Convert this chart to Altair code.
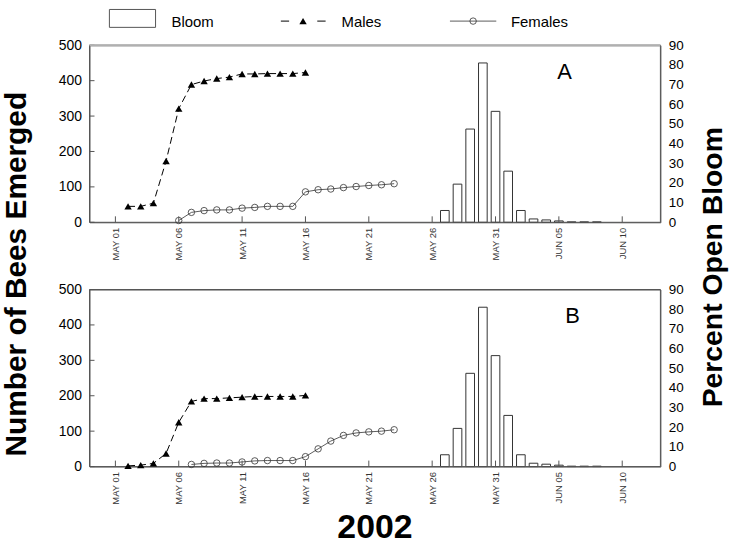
import altair as alt
import pandas as pd

# ---------------- data ----------------
male_dates = pd.date_range("2002-05-02", "2002-05-16").strftime("%Y-%m-%d").tolist()
males_A = [45, 45, 54, 173, 321, 389, 399, 406, 410, 419, 419, 420, 420, 420, 423]
males_B = [2, 4, 9, 37, 125, 184, 192, 192, 194, 196, 198, 198, 198, 198, 201]

fem_dates_A = pd.date_range("2002-05-06", "2002-05-23").strftime("%Y-%m-%d").tolist()
females_A = [5, 28, 33, 35, 35, 40, 42, 45, 45, 45, 86, 92, 94, 98, 101, 104, 106, 109]
fem_dates_B = pd.date_range("2002-05-07", "2002-05-23").strftime("%Y-%m-%d").tolist()
females_B = [6, 9, 10, 10, 13, 16, 17, 17, 17, 28, 50, 72, 88, 95, 98, 100, 104]

bloom_dates = pd.date_range("2002-05-27", "2002-06-08").strftime("%Y-%m-%d").tolist()
bloom = [6, 19.4, 47.4, 81, 56.4, 26, 6, 1.7, 1.2, 0.7, 0.2, 0.2, 0.2]

tick_dates = ["2002-05-01", "2002-05-06", "2002-05-11", "2002-05-16", "2002-05-21",
              "2002-05-26", "2002-05-31", "2002-06-05", "2002-06-10"]
tick_labels = ["MAY 01", "MAY 06", "MAY 11", "MAY 16", "MAY 21",
               "MAY 26", "MAY 31", "JUN 05", "JUN 10"]
left_ticks = [0, 100, 200, 300, 400, 500]
right_ticks = [0, 10, 20, 30, 40, 50, 60, 70, 80, 90]

ORIGIN = pd.Timestamp("2002-05-01")


def to_day(dates):
    return [(pd.Timestamp(d) - ORIGIN).days + 1 for d in dates]


tick_days = to_day(tick_dates)

# ---------------- layout ----------------
W, H = 574, 178
FONT = "Liberation Sans"
xscale = alt.Scale(domain=[-0.65, 43.62], nice=False, zero=False)
yl = alt.Scale(domain=[0, 500], nice=False, zero=False)
yr = alt.Scale(domain=[0, 90], nice=False, zero=False)

label_expr = "[" + ",".join(f"'{t}'" for t in tick_labels) + "][round((datum.value-1)/5)]"
xax = alt.Axis(values=tick_days, labelExpr=label_expr, labelAngle=270, labelAlign="right",
               labelBaseline="middle", labelFontSize=9.5, labelColor="#333", labelPadding=5,
               ticks=False, domain=False, grid=False, title=None, labelFont=FONT)
yax_left = alt.Axis(orient="left", values=left_ticks, labelFontSize=14, labelPadding=8,
                    labelColor="black", ticks=False, domain=False, grid=False, title=None,
                    labelFont=FONT)
yax_right = alt.Axis(orient="right", values=right_ticks, labelFontSize=13.5, labelPadding=8,
                     labelColor="black", ticks=False, domain=False, grid=False, title=None,
                     labelFont=FONT)


def panel(males, fdates, females, letter, letter_xy, top=False, bottom=False):
    mdf = pd.DataFrame({"day": to_day(male_dates), "v": males})
    fdf = pd.DataFrame({"day": to_day(fdates), "v": females})
    bdf = pd.DataFrame({"day": to_day(bloom_dates), "b": bloom})
    tdf = pd.DataFrame({"day": tick_days})
    ldf = pd.DataFrame({"v": left_ticks})
    base = alt.Chart(pd.DataFrame({"a": [0]}))

    X = alt.X("day:Q", scale=xscale, axis=xax)
    YL = alt.Y("v:Q", scale=yl, axis=yax_left)

    bars = alt.Chart(bdf).mark_bar(size=8.7, fill="white", stroke="#333", strokeWidth=1).encode(
        x=X, y=alt.Y("b:Q", scale=yr, axis=yax_right),
    )

    frame = base.mark_rect(fill="transparent", stroke="#555", strokeWidth=1).encode(
        x=alt.value(0), x2=alt.value(W), y=alt.value(0), y2=alt.value(H))
    mline = alt.Chart(mdf).mark_line(color="black", strokeDash=[7, 4], strokeWidth=1).encode(x=X, y=YL)
    mpts = alt.Chart(mdf).mark_point(shape="triangle-up", filled=True, color="black",
                                     size=55, opacity=1).encode(x=X, y=YL)
    fline = alt.Chart(fdf).mark_line(color="#333", strokeWidth=0.8).encode(x=X, y=YL)
    fpts = alt.Chart(fdf).mark_point(shape="circle", filled=False, color="#333",
                                     size=42, strokeWidth=0.8, opacity=1).encode(x=X, y=YL)
    yticks = alt.Chart(ldf).mark_rule(color="#555").encode(
        y=YL, x=alt.value(0), x2=alt.value(5),
    )
    xticks = alt.Chart(tdf).mark_rule(color="#555").encode(
        x=X, y=alt.value(H), y2=alt.value(H - 6),
    )
    lab = alt.Chart(pd.DataFrame({"t": [letter]})).mark_text(
        font=FONT, fontSize=22, align="center", baseline="alphabetic", color="black").encode(
        text="t:N", x=alt.value(letter_xy[0]), y=alt.value(letter_xy[1]))

    left_layers = [frame, mline, mpts, fline, fpts, yticks, xticks, lab]

    if top:
        txt = dict(font=FONT, fontSize=15, align="left", baseline="alphabetic", color="black")
        left_layers += [
            base.mark_rule(color="#b0b0b0", strokeWidth=2).encode(
                x=alt.value(0), x2=alt.value(W), y=alt.value(0)),
            base.mark_rect(fill="white", stroke="#555", strokeWidth=1).encode(
                x=alt.value(20), x2=alt.value(66.4), y=alt.value(-36), y2=alt.value(-18)),
            base.mark_text(**txt).encode(text=alt.value("Bloom"), x=alt.value(82.4), y=alt.value(-18.3)),
            base.mark_rule(color="black", strokeWidth=1).encode(
                x=alt.value(192.4), x2=alt.value(200.7), y=alt.value(-24.3)),
            base.mark_rule(color="black", strokeWidth=1).encode(
                x=alt.value(229), x2=alt.value(237.4), y=alt.value(-24.3)),
            base.mark_point(shape="triangle-up", filled=True, color="black", size=55, opacity=1).encode(
                x=alt.value(214.7), y=alt.value(-24.3)),
            base.mark_text(**txt).encode(text=alt.value("Males"), x=alt.value(253.4), y=alt.value(-18.3)),
            base.mark_rule(color="#333", strokeWidth=0.8).encode(
                x=alt.value(362.4), x2=alt.value(409), y=alt.value(-24.3)),
            base.mark_point(shape="circle", filled=False, color="#333", size=42,
                            strokeWidth=0.8, opacity=1).encode(x=alt.value(385.7), y=alt.value(-24.3)),
            base.mark_text(**txt).encode(text=alt.value("Females"), x=alt.value(423.7), y=alt.value(-18.3)),
            base.mark_text(font=FONT, fontSize=30, fontWeight="bold", angle=270, align="center",
                           baseline="middle", color="black").encode(
                text=alt.value("Number of Bees Emerged"), x=alt.value(-73), y=alt.value(230.2)),
            base.mark_text(font=FONT, fontSize=28.5, fontWeight="bold", angle=270, align="center",
                           baseline="middle", color="black").encode(
                text=alt.value("Percent Open Bloom"), x=alt.value(626.5), y=alt.value(223.2)),
        ]
    if bottom:
        left_layers.append(
            base.mark_text(font=FONT, fontSize=34, fontWeight="bold", align="center",
                           baseline="alphabetic", color="black").encode(
                text=alt.value("2002"), x=alt.value(287), y=alt.value(250)))

    return alt.layer(bars, alt.layer(*left_layers)).resolve_scale(y="independent").properties(
        width=W, height=H)


pA = panel(males_A, fem_dates_A, females_A, "A", (477.7, 34), top=True)
pB = panel(males_B, fem_dates_B, females_B, "B", (485.7, 33.4), bottom=True)

chart = alt.vconcat(pA, pB, spacing=67.6).properties(
    bounds="flush",
    background="white",
    padding={"left": 1, "top": 7, "right": 5, "bottom": 5},
).configure_view(stroke="#555", strokeWidth=1)

chart.save("out.html", embed_options={"renderer": "svg", "actions": False})
